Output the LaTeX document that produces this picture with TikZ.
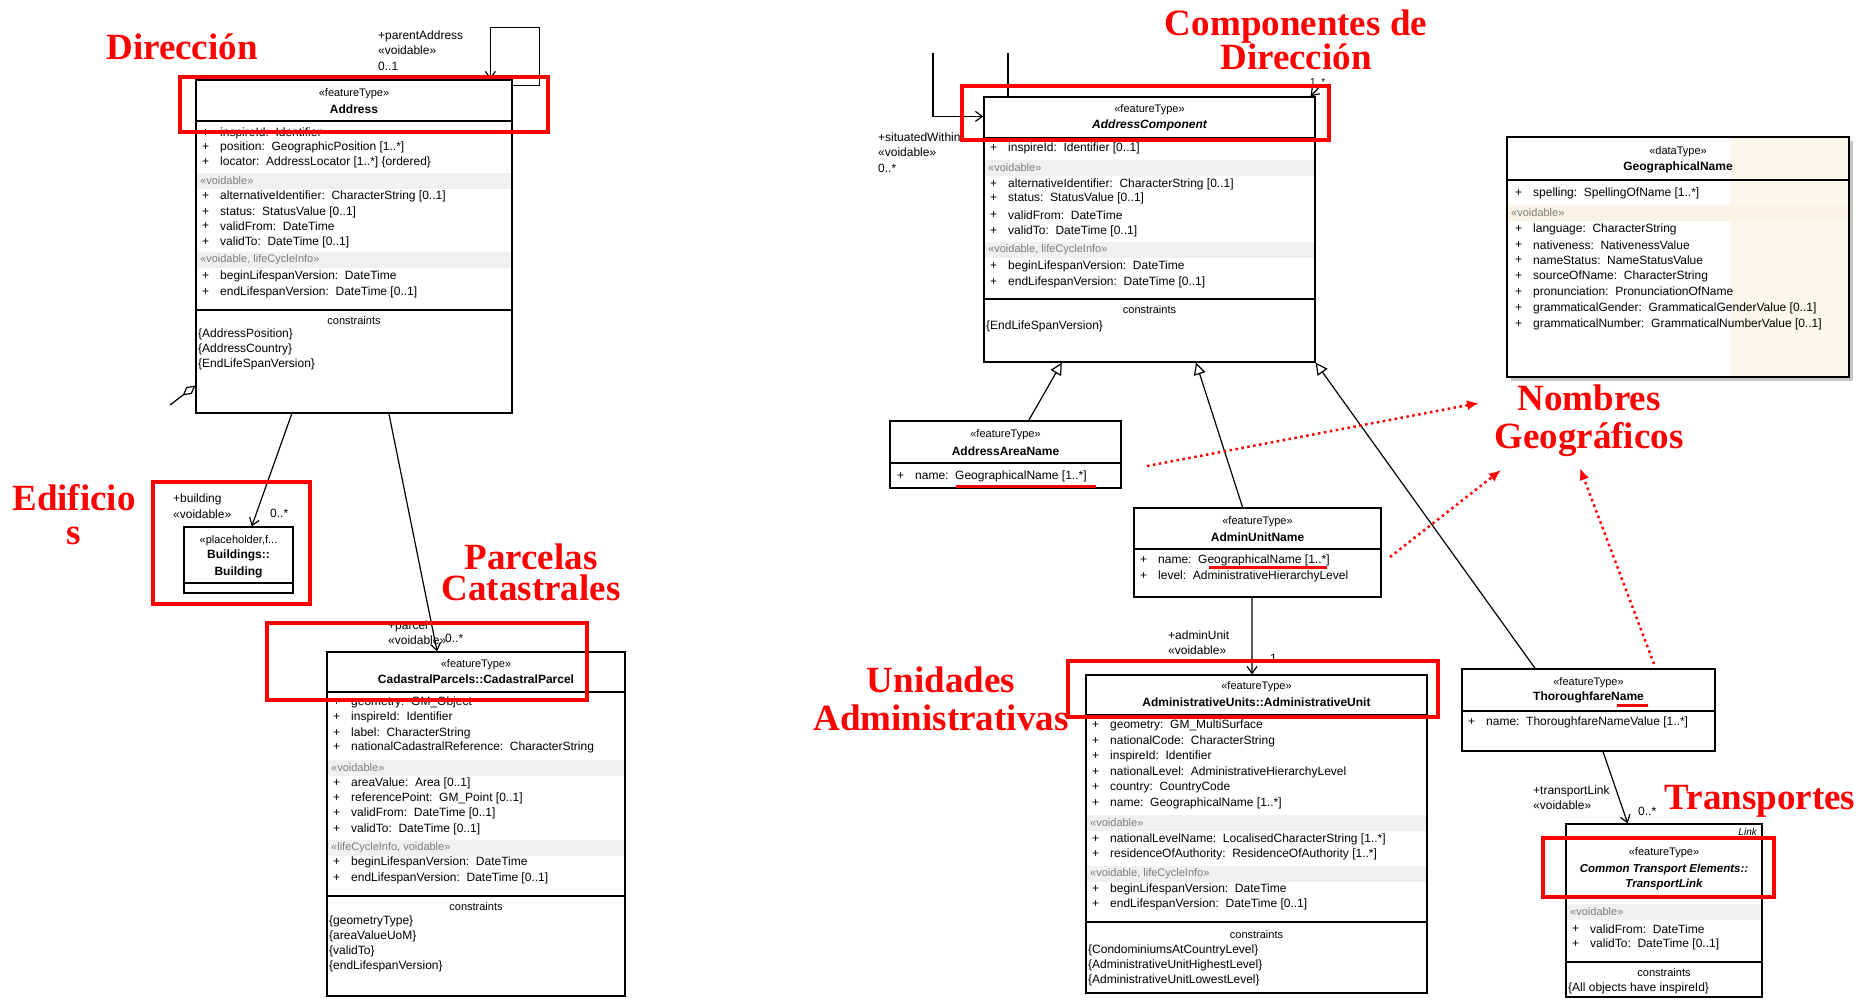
\documentclass[tikz,border=0pt]{standalone}
\usepackage{fontspec}
\setmainfont{Liberation Sans}
\newfontfamily\redserif{Liberation Serif}
\usetikzlibrary{calc,positioning,arrows.meta}
\definecolor{bandgray}{RGB}{240,240,240}
\definecolor{stereogray}{RGB}{125,125,125}
\definecolor{eabeige}{RGB}{252,247,236}
\definecolor{eaband}{RGB}{249,243,230}
\newcommand{\urow}[4][attr]{%
  \node[#1] at (#2,#3) {+};
  \node[#1] at (#2+18,#3) {#4};}
\newcommand{\uband}[5][bandgray]{%
  \fill[#1] (#2,#4-8) rectangle (#3,#4+8);
  \node[stereo] at (#2+3,#4) {#5};}
\newcommand{\udiv}[2]{\draw[umlline] (#1.west |- 0,#2) -- (#1.east |- 0,#2);}
\tikzset{
  umlline/.style={draw=black,line width=1.2pt},
  classbox/.style={draw=black,line width=1.2pt,fill=white,inner sep=0pt},
  redframe/.style={draw=red,line width=3.5pt,inner sep=0pt},
  redlabel/.style={text=red,font=\redserif\bfseries\fontsize{37}{31}\selectfont,align=center,inner sep=0pt},
  attr/.style={font=\fontsize{12}{14}\selectfont,anchor=west,inner sep=0pt},
  stereo/.style={font=\fontsize{11}{13}\selectfont,text=stereogray,anchor=west,inner sep=0pt},
  hdr/.style={font=\fontsize{11}{13}\selectfont,inner sep=0pt},
  hdrname/.style={font=\fontsize{12}{14}\selectfont\bfseries,inner sep=0pt},
  endlabel/.style={font=\fontsize{12}{15.5}\selectfont,anchor=west,align=left,inner sep=0pt},
  assoc/.style={umlline,-{Straight Barb[length=7pt,width=10pt,line width=1.2pt]}},
  gen/.style={umlline,-{Triangle[open,length=12pt,width=12pt,fill=white]}},
  hint/.style={draw=red,line width=2.5pt,dash pattern=on 2.5pt off 3.5pt,-{Latex[length=12pt,width=10pt]}},
  uline/.style={draw=red,line width=3pt}
}
\begin{document}
\begin{tikzpicture}[x=1pt,y=-1pt]
\useasboundingbox (0,0) rectangle (1858,999);

% Address
\node[classbox,minimum width=316,minimum height=333] (addr) at (354,246.5) {};
\node[hdr] at (addr.center |- 0,94) {«featureType»};
\node[hdrname] at (addr.center |- 0,109) {Address};
\udiv{addr}{121}
\urow{202}{133}{inspireId:~~Identifier}
\urow{202}{147}{position:~~GeographicPosition [1..*]}
\urow{202}{162}{locator:~~AddressLocator [1..*] \{ordered\}}
\uband{197}{511}{181}{«voidable»}
\urow{202}{196}{alternativeIdentifier:~~CharacterString [0..1]}
\urow{202}{212}{status:~~StatusValue [0..1]}
\urow{202}{226}{validFrom:~~DateTime}
\urow{202}{242}{validTo:~~DateTime [0..1]}
\uband{197}{511}{260}{«voidable, lifeCycleInfo»}
\urow{202}{276}{beginLifespanVersion:~~DateTime}
\urow{202}{292}{endLifespanVersion:~~DateTime [0..1]}
\udiv{addr}{310}
\node[hdr] at (addr.center |- 0,321) {constraints};
\node[attr] at (198,334) {\{AddressPosition\}};
\node[attr] at (198,349) {\{AddressCountry\}};
\node[attr] at (198,364) {\{EndLifeSpanVersion\}};

% Building
\node[classbox,minimum width=109,minimum height=66] (bldg) at (238.5,560) {};
\node[hdr] at (bldg.center |- 0,541) {«placeholder,f...};
\node[hdrname] at (bldg.center |- 0,555) {Buildings::};
\node[hdrname] at (bldg.center |- 0,572) {Building};
\udiv{bldg}{583}

% CadastralParcel
\node[classbox,minimum width=298,minimum height=344] (parcel) at (476,824) {};
\node[hdr] at (parcel.center |- 0,665) {«featureType»};
\node[hdrname] at (parcel.center |- 0,679) {CadastralParcels::CadastralParcel};
\udiv{parcel}{692}
\urow{333}{702}{geometry:~~GM\_Object}
\urow{333}{717}{inspireId:~~Identifier}
\urow{333}{733}{label:~~CharacterString}
\urow{333}{747}{nationalCadastralReference:~~CharacterString}
\uband{328}{624}{768}{«voidable»}
\urow{333}{783}{areaValue:~~Area [0..1]}
\urow{333}{798}{referencePoint:~~GM\_Point [0..1]}
\urow{333}{813}{validFrom:~~DateTime [0..1]}
\urow{333}{829}{validTo:~~DateTime [0..1]}
\uband{328}{624}{848}{«lifeCycleInfo, voidable»}
\urow{333}{862}{beginLifespanVersion:~~DateTime}
\urow{333}{878}{endLifespanVersion:~~DateTime [0..1]}
\udiv{parcel}{896}
\node[hdr] at (parcel.center |- 0,907) {constraints};
\node[attr] at (329,921) {\{geometryType\}};
\node[attr] at (329,936) {\{areaValueUoM\}};
\node[attr] at (329,951) {\{validTo\}};
\node[attr] at (329,966) {\{endLifespanVersion\}};

% AddressComponent
\node[classbox,minimum width=331,minimum height=265] (comp) at (1149.5,229.5) {};
\node[hdr] at (comp.center |- 0,110) {«featureType»};
\node[hdrname,font=\fontsize{12}{14}\selectfont\bfseries\itshape] at (comp.center |- 0,125) {AddressComponent};
\udiv{comp}{138}
\urow{990}{148}{inspireId:~~Identifier [0..1]}
\uband{985}{1314}{168}{«voidable»}
\urow{990}{184}{alternativeIdentifier:~~CharacterString [0..1]}
\urow{990}{198}{status:~~StatusValue [0..1]}
\urow{990}{215}{validFrom:~~DateTime}
\urow{990}{231}{validTo:~~DateTime [0..1]}
\uband{985}{1314}{250}{«voidable, lifeCycleInfo»}
\urow{990}{266}{beginLifespanVersion:~~DateTime}
\urow{990}{282}{endLifespanVersion:~~DateTime [0..1]}
\udiv{comp}{299}
\node[hdr] at (comp.center |- 0,310) {constraints};
\node[attr] at (986,326) {\{EndLifeSpanVersion\}};

% GeographicalName
\fill[gray!45] (1511,141) rectangle (1853,381);
\node[classbox,minimum width=342,minimum height=240] (geo) at (1678,257) {};
\fill[eabeige] (1730,138) rectangle (1848.4,376.4);
\uband[eaband]{1508}{1848}{213}{«voidable»}
\draw[umlline] (geo.north west) rectangle (geo.south east);
\node[hdr] at (geo.center |- 0,152) {«dataType»};
\node[hdrname] at (geo.center |- 0,167) {GeographicalName};
\udiv{geo}{180}
\urow{1515}{193}{spelling:~~SpellingOfName [1..*]}
\urow{1515}{229}{language:~~CharacterString}
\urow{1515}{245}{nativeness:~~NativenessValue}
\urow{1515}{260}{nameStatus:~~NameStatusValue}
\urow{1515}{276}{sourceOfName:~~CharacterString}
\urow{1515}{292}{pronunciation:~~PronunciationOfName}
\urow{1515}{308}{grammaticalGender:~~GrammaticalGenderValue [0..1]}
\urow{1515}{324}{grammaticalNumber:~~GrammaticalNumberValue [0..1]}

% AddressAreaName
\node[classbox,minimum width=231,minimum height=67] (area) at (1005.5,454.5) {};
\node[hdr] at (area.center |- 0,435) {«featureType»};
\node[hdrname] at (area.center |- 0,451) {AddressAreaName};
\udiv{area}{463}
\urow{897}{476}{name:~~GeographicalName [1..*]}
\draw[uline] (956,486) -- (1096,486);

% AdminUnitName
\node[classbox,minimum width=247,minimum height=89] (aun) at (1257.5,552.5) {};
\node[hdr] at (aun.center |- 0,522) {«featureType»};
\node[hdrname] at (aun.center |- 0,537) {AdminUnitName};
\udiv{aun}{549}
\urow{1140}{560}{name:~~GeographicalName [1..*]}
\urow{1140}{576}{level:~~AdministrativeHierarchyLevel}
\draw[uline] (1209,567) -- (1327,567);

% AdministrativeUnit
\node[classbox,minimum width=341,minimum height=318] (au) at (1256.5,834) {};
\node[hdr] at (au.center |- 0,687) {«featureType»};
\node[hdrname] at (au.center |- 0,702) {AdministrativeUnits::AdministrativeUnit};
\udiv{au}{715}
\urow{1092}{725}{geometry:~~GM\_MultiSurface}
\urow{1092}{741}{nationalCode:~~CharacterString}
\urow{1092}{756}{inspireId:~~Identifier}
\urow{1092}{772}{nationalLevel:~~AdministrativeHierarchyLevel}
\urow{1092}{787}{country:~~CountryCode}
\urow{1092}{803}{name:~~GeographicalName [1..*]}
\uband{1087}{1426}{823}{«voidable»}
\urow{1092}{839}{nationalLevelName:~~LocalisedCharacterString [1..*]}
\urow{1092}{854}{residenceOfAuthority:~~ResidenceOfAuthority [1..*]}
\uband{1087}{1426}{874}{«voidable, lifeCycleInfo»}
\urow{1092}{889}{beginLifespanVersion:~~DateTime}
\urow{1092}{904}{endLifespanVersion:~~DateTime [0..1]}
\udiv{au}{922}
\node[hdr] at (au.center |- 0,935) {constraints};
\node[attr] at (1088,950) {\{CondominiumsAtCountryLevel\}};
\node[attr] at (1088,965) {\{AdministrativeUnitHighestLevel\}};
\node[attr] at (1088,980) {\{AdministrativeUnitLowestLevel\}};

% ThoroughfareName
\node[classbox,minimum width=253,minimum height=82] (thn) at (1588.5,710) {};
\node[hdr] at (thn.center |- 0,683) {«featureType»};
\node[hdrname] at (thn.center |- 0,697) {ThoroughfareName};
\udiv{thn}{711}
\urow{1468}{722}{name:~~ThoroughfareNameValue [1..*]}
\draw[uline] (1617,705) -- (1648,705);

% TransportLink
\node[classbox,minimum width=196,minimum height=173] (tl) at (1664,910.5) {};
\node[hdr,font=\fontsize{10}{12}\selectfont\itshape,anchor=east] at (1757,832) {Link};
\node[hdr] at (tl.center |- 0,853) {«featureType»};
\node[hdrname,font=\fontsize{11.5}{14}\selectfont\bfseries\itshape] at (tl.center |- 0,870) {Common Transport Elements::};
\node[hdrname,font=\fontsize{11.5}{14}\selectfont\bfseries\itshape] at (tl.center |- 0,885) {TransportLink};
\udiv{tl}{897}
\uband{1567}{1761}{912}{«voidable»}
\urow{1572}{929}{validFrom:~~DateTime}
\urow{1572}{944}{validTo:~~DateTime [0..1]}
\udiv{tl}{962}
\node[hdr] at (tl.center |- 0,973) {constraints};
\node[attr] at (1568,988) {\{All objects have inspireId\}};

% associations
\draw[assoc] ($(addr.north east)+(0,6)$) -- ++(27,0) |- ($(addr.north west)!0.93!(addr.north east)+(0,-52)$) -- ($(addr.north west)!0.93!(addr.north east)$);
\node[endlabel] at (378,50.5) {+parentAddress\\«voidable»\\0..1};
\coordinate (stubL) at (170,405);
\draw[umlline,-{Diamond[open,length=16pt,width=9pt]}] (stubL) -- ($(addr.south west)+(0,-28)$);
\draw[assoc] ($(addr.south west)!0.304!(addr.south east)$) -- ($(bldg.north west)!0.62!(bldg.north east)$);
\node[endlabel] at (173,506) {+building\\«voidable»};
\node[endlabel] at (270,513) {0..*};
\draw[assoc] ($(addr.south west)!0.61!(addr.south east)$) -- ($(parcel.north west)!0.37!(parcel.north east)$);
\node[endlabel] at (388,632.5) {+parcel\\«voidable»};
\node[endlabel] at (445,638) {0..*};

\coordinate (swTop) at (933,53);
\draw[assoc] (swTop) |- ($(comp.north west)+(0,20)$);
\node[endlabel] at (878,152.5) {+situatedWithin\\«voidable»\\0..*};
\coordinate (cTop) at (1008,53);
\draw[umlline] (cTop) -- (cTop |- comp.north);
\coordinate (cTR) at (1320,86);
\draw[assoc] (cTR) -- ($(comp.north east)+(-5,0)$);
\node[endlabel,font=\fontsize{10}{12}\selectfont] at (1310,82) {1..*};

\draw[gen] ($(area.north west)!0.6!(area.north east)$) -- ($(comp.south west)!0.236!(comp.south east)$);
\draw[gen] ($(aun.north west)!0.44!(aun.north east)$) -- ($(comp.south west)!0.64!(comp.south east)$);
\draw[gen] ($(thn.north west)!0.29!(thn.north east)$) -- (comp.south east);

\draw[assoc] ($(aun.south west)!0.478!(aun.south east)$) -- ($(au.north west)!0.487!(au.north east)$);
\node[endlabel] at (1168,642.5) {+adminUnit\\«voidable»};
\node[endlabel] at (1270,658) {1};
\draw[assoc] ($(thn.south west)!0.557!(thn.south east)$) -- ($(tl.north west)!0.316!(tl.north east)$);
\node[endlabel] at (1533,797.5) {+transportLink\\«voidable»};
\node[endlabel] at (1638,811) {0..*};

% red frames
\node[redframe,minimum width=368,minimum height=55] (fAddr) at (364,104.5) {};
\node[redframe,minimum width=157,minimum height=122] (fBldg) at (231.5,543) {};
\node[redframe,minimum width=320,minimum height=77] (fParcel) at (427,661.5) {};
\node[redframe,minimum width=367,minimum height=54] (fComp) at (1145.5,113) {};
\node[redframe,minimum width=370,minimum height=56] (fAU) at (1253,689) {};
\node[redframe,minimum width=231,minimum height=59] (fTL) at (1658.5,867.5) {};

% red labels
\node[redlabel] (lDir) at (182,47) {Dirección};
\node[redlabel] (lEdif) at (74,515) {Edificio\\[3pt]s};
\node[redlabel] (lParc) at (531,572) {Parcelas\\Catastrales};
\node[redlabel] (lComp) at (1296,40) {Componentes de\\Dirección};
\node[redlabel] (lUni) at (941,699) {Unidades\\[7pt]Administrativas};
\node[redlabel] (lNom) at (1589,421) {Nombres\\[7pt]Geográficos};
\node[redlabel] (lTra) at (1760,801) {Transportes};

% hints to Nombres Geograficos
\coordinate (h1) at (1147,466);
\coordinate (h2) at (1390,557);
\coordinate (h3) at (1654,664);
\coordinate (n1) at (1479,403);
\coordinate (n2) at (1501,470);
\coordinate (n3) at (1580,468);
\draw[hint] (h1) -- (n1);
\draw[hint] (h2) -- (n2);
\draw[hint] (h3) -- (n3);
\end{tikzpicture}
\end{document}
